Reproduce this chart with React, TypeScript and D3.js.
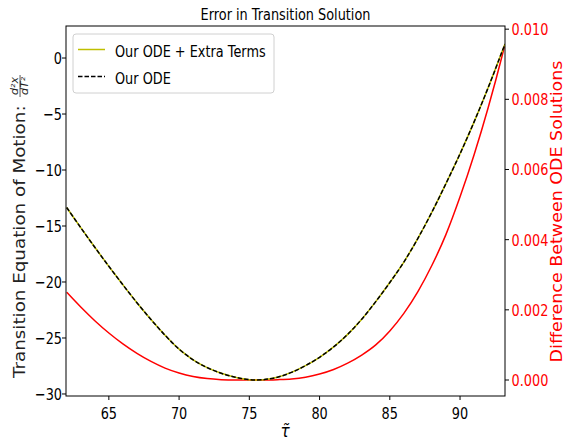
import React from "react";
import * as d3 from "d3";

const tau = [62, 63, 64, 65, 66, 67, 68, 69, 70, 71, 72, 73, 74, 75, 76, 77, 78, 79, 80, 81, 82, 83, 84, 85, 86, 87, 88, 89, 90, 91, 92, 93, 93.2];
const odeExtra = [-13.35, -15.15, -16.9, -18.6, -20.25, -21.85, -23.35, -24.75, -26.0, -26.95, -27.65, -28.15, -28.5, -28.72, -28.72, -28.5, -28.07, -27.47, -26.72, -25.8, -24.68, -23.32, -21.75, -20.05, -18.22, -16.1, -13.75, -11.2, -8.55, -5.7, -2.65, 0.6, 1.25];
const ode = odeExtra.slice();
const diff = [0.0025, 0.00208, 0.00169, 0.00134, 0.00103, 0.00076, 0.00053, 0.00034, 0.0002, 0.0001, 0.00004, 0.00001, 0, 0, 0, 0.00001, 0.00003, 0.00008, 0.00017, 0.0003, 0.00048, 0.00071, 0.001, 0.0014, 0.0019, 0.00252, 0.00327, 0.00415, 0.00522, 0.00642, 0.00776, 0.00925, 0.00957];

const xTicks = [65, 70, 75, 80, 85, 90];
const yTicks = [0, -5, -10, -15, -20, -25, -30];
const y2Ticks = [0, 0.002, 0.004, 0.006, 0.008, 0.01];

const W = 565, H = 441;
const L = 66, R = 505, T = 26, B = 396;
const SX = 0.78;
const FONT = "DejaVu Sans, sans-serif";

function HText({ x, y, anchor, size, fill, children }: any) {
  return (
    <text transform={`translate(${x},${y}) scale(${SX},1)`} textAnchor={anchor || "start"} fontSize={size} fill={fill || "#000"} fontFamily={FONT}>
      {children}
    </text>
  );
}

export default function App() {
  const x = d3.scaleLinear().domain([61.95, 93.2]).range([L, R]);
  const y = d3.scaleLinear().domain([-30.18, 2.86]).range([B, T]);
  const y2 = d3.scaleLinear().domain([-0.000456, 0.01009]).range([B, T]);

  const lineL = d3.line<number>().x((_, i) => x(tau[i])).y((d) => y(d)).curve(d3.curveCatmullRom);
  const lineR = d3.line<number>().x((_, i) => x(tau[i])).y((d) => y2(d)).curve(d3.curveMonotoneX);

  const fmtL = (v: number) => (v < 0 ? "\u2212" + Math.abs(v) : String(v));
  const fmtR = d3.format(".3f");

  return (
    <svg width={W} height={H} style={{ position: "absolute", left: 0, top: 0, background: "#fff" }}>
      <defs>
        <clipPath id="plot">
          <rect x={L} y={T} width={R - L} height={B - T} />
        </clipPath>
      </defs>
      <rect x={0} y={0} width={W} height={H} fill="#fff" />
      <g clipPath="url(#plot)">
        <path d={lineR(diff) || ""} fill="none" stroke="#ff0000" strokeWidth={1.5} />
        <path d={lineL(odeExtra) || ""} fill="none" stroke="#bfbf00" strokeWidth={1.5} />
        <path d={lineL(ode) || ""} fill="none" stroke="#000" strokeWidth={1.5} strokeDasharray="4.5,2" />
      </g>
      <rect x={L} y={T} width={R - L} height={B - T} fill="none" stroke="#000" strokeWidth={1} />

      {xTicks.map((t) => (
        <g key={"x" + t}>
          <line x1={x(t)} x2={x(t)} y1={B} y2={B + 4} stroke="#000" />
          <HText x={x(t)} y={419} anchor="middle" size={16.5}>{t}</HText>
        </g>
      ))}
      {yTicks.map((t) => (
        <g key={"y" + t}>
          <line x1={L - 4} x2={L} y1={y(t)} y2={y(t)} stroke="#000" />
          <HText x={62} y={y(t) + 6} anchor="end" size={16.5}>{fmtL(t)}</HText>
        </g>
      ))}
      {y2Ticks.map((t) => (
        <g key={"r" + t}>
          <line x1={R} x2={R + 4} y1={y2(t)} y2={y2(t)} stroke="#000" />
          <HText x={511.5} y={y2(t) + 6} anchor="start" size={16.5} fill="#ff0000">{fmtR(t)}</HText>
        </g>
      ))}

      <HText x={(L + R) / 2} y={20} anchor="middle" size={16.5}>Error in Transition Solution</HText>

      <g transform="translate(285,437) scale(0.85,1)">
        <text textAnchor="middle" fontSize={18} fontStyle="italic" fontFamily={FONT}>{"\u03C4\u0303"}</text>
      </g>

      <g transform="translate(25,378) scale(0.9,1) rotate(-90)">
        <text x={0} y={0} fontSize={18.3} fontFamily={FONT} fill="#222">Transition Equation of Motion:</text>
        <text x={292} y={-8} fontSize={11} fontStyle="italic" textAnchor="middle" fontFamily={FONT} fill="#222">d²x</text>
        <line x1={281} x2={303} y1={-5.5} y2={-5.5} stroke="#222" strokeWidth={0.8} />
        <text x={292} y={3.5} fontSize={11} fontStyle="italic" textAnchor="middle" fontFamily={FONT} fill="#222">dT²</text>
      </g>

      <g transform="translate(561.5,211.5) scale(0.9,1) rotate(-90)">
        <text x={0} y={0} fontSize={17.5} textAnchor="middle" fontFamily={FONT} fill="#ff0000">Difference Between ODE Solutions</text>
      </g>

      <g>
        <rect x={73} y={34} width={201} height={59} rx={3} fill="#fff" fillOpacity={0.8} stroke="#d0d0d0" strokeWidth={1} />
        <line x1={78} x2={105} y1={49.5} y2={49.5} stroke="#bfbf00" strokeWidth={1.5} />
        <HText x={115} y={56.5} size={16.5}>Our ODE + Extra Terms</HText>
        <line x1={78} x2={105} y1={76.5} y2={76.5} stroke="#000" strokeWidth={1.5} strokeDasharray="4.5,2" />
        <HText x={115} y={83.5} size={16.5}>Our ODE</HText>
      </g>
    </svg>
  );
}
